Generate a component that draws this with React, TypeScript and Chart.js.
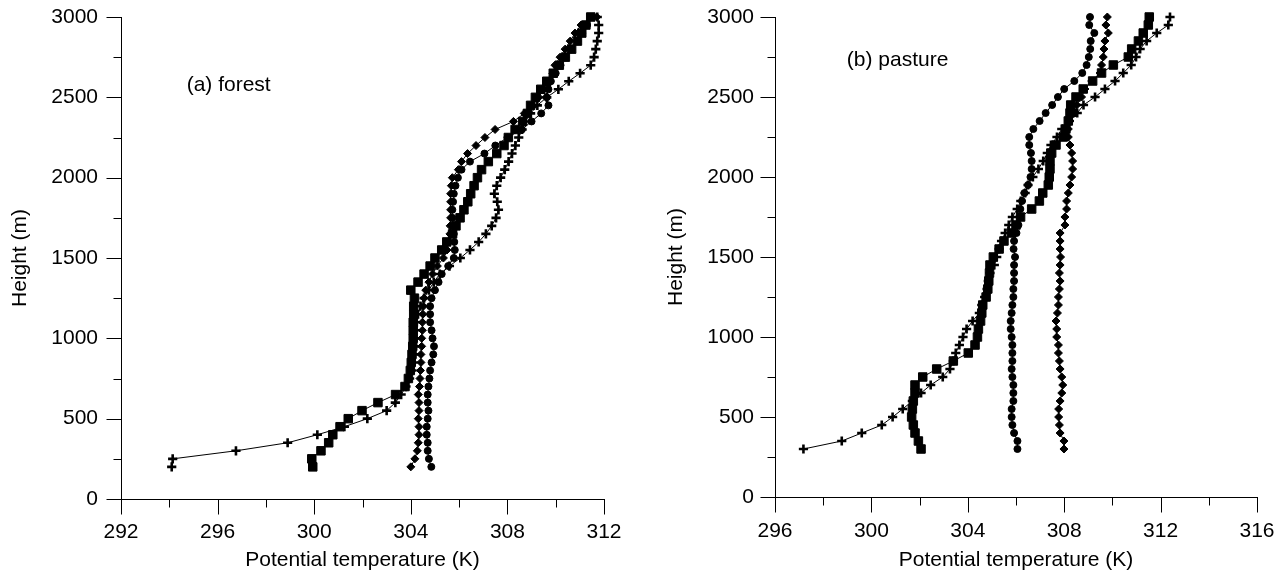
import React, { useEffect, useRef } from "react";
import { Chart, registerables } from "chart.js";

Chart.register(...registerables);

const FONT = '"Liberation Sans", Arial, Helvetica, sans-serif';

// ---------- Panel (a) forest ----------
const heightsA = [
  200, 250, 300, 350, 400, 450, 500, 550, 600, 650,
  700, 750, 800, 850, 900, 950, 1000, 1050, 1100, 1150,
  1200, 1250, 1300, 1350, 1400, 1450, 1500, 1550, 1600, 1650,
  1700, 1750, 1800, 1850, 1900, 1950, 2000, 2050, 2100, 2150,
  2200, 2250, 2300, 2350, 2400, 2450, 2500, 2550, 2600, 2650,
  2700, 2750, 2800, 2850, 2900, 2950, 3000,
];
const crossA = [
  294.1, 294.14, 296.76, 298.9, 300.13, 301.25, 302.2, 303.0, 303.36, 303.6,
  303.8, 303.95, 304.05, 304.1, 304.15, 304.15, 304.2, 304.2, 304.25, 304.3,
  304.4, 304.55, 304.75, 304.95, 305.2, 305.6, 306.05, 306.45, 306.81, 307.11,
  307.35, 307.53, 307.63, 307.58, 307.46, 307.56, 307.72, 307.89, 308.05, 308.19,
  308.33, 308.47, 308.61, 308.74, 308.96, 309.24, 309.63, 310.11, 310.54, 311.01,
  311.45, 311.59, 311.66, 311.72, 311.78, 311.78, 311.72,
];
const squareA = [
  299.94, 299.9, 300.28, 300.6, 300.77, 301.07, 301.41, 301.98, 302.64, 303.37,
  303.76, 303.9, 303.98, 304.02, 304.05, 304.08, 304.1, 304.1, 304.1, 304.12,
  304.12, 304.15, 304.0, 304.3, 304.55, 304.8, 305.0, 305.28, 305.49, 305.73,
  305.87, 306.04, 306.2, 306.36, 306.48, 306.62, 306.76, 306.93, 307.21, 307.56,
  307.86, 308.04, 308.32, 308.63, 308.83, 308.96, 309.16, 309.38, 309.63, 309.9,
  310.15, 310.4, 310.66, 310.9, 311.08, 311.25, 311.45,
];
const circleA = [
  304.85, 304.75, 304.7, 304.7, 304.66, 304.66, 304.7, 304.73, 304.7, 304.7,
  304.73, 304.77, 304.8, 304.86, 304.93, 304.96, 304.9, 304.86, 304.8, 304.8,
  304.8, 304.86, 305.0, 305.15, 305.28, 305.55, 305.78, 305.82, 305.8, 305.78,
  305.75, 305.72, 305.72, 305.75, 305.78, 305.85, 305.95, 306.1, 306.45, 307.05,
  307.5, 308.0, 308.6, 309.0, 309.4, 309.7, 309.63, 309.7, 309.8, 310.0,
  310.2, 310.4, 310.65, 310.9, 311.1, 311.3, 311.5,
];
const diamondA = [
  304.0, 304.17, 304.27, 304.31, 304.34, 304.34, 304.31, 304.34, 304.34, 304.31,
  304.36, 304.38, 304.4, 304.42, 304.42, 304.45, 304.45, 304.48, 304.48, 304.5,
  304.52, 304.55, 304.62, 304.75, 304.9, 305.1, 305.35, 305.5, 305.58, 305.62,
  305.63, 305.65, 305.65, 305.65, 305.65, 305.68, 305.72, 305.97, 306.1, 306.35,
  306.7, 307.07, 307.49, 308.25, 308.7, 309.05, 309.3, 309.5, 309.7, 309.88,
  309.97, 310.18, 310.39, 310.6, 310.8, 311.05, 311.7,
];

// ---------- Panel (b) pasture ----------
const heightsB = [
  300, 350, 400, 450, 500, 550, 600, 650, 700, 750,
  800, 850, 900, 950, 1000, 1050, 1100, 1150, 1200, 1250,
  1300, 1350, 1400, 1450, 1500, 1550, 1600, 1650, 1700, 1750,
  1800, 1850, 1900, 1950, 2000, 2050, 2100, 2150, 2200, 2250,
  2300, 2350, 2400, 2450, 2500, 2550, 2600, 2650, 2700, 2750,
  2800, 2850, 2900, 2950, 3000,
];
const crossB = [
  297.18, 298.77, 299.6, 300.43, 300.88, 301.3, 301.7, 302.06, 302.46, 302.96,
  303.26, 303.4, 303.5, 303.65, 303.8, 303.95, 304.2, 304.48, 304.58, 304.7,
  304.8, 304.85, 304.92, 305.1, 305.2, 305.3, 305.4, 305.55, 305.7, 305.85,
  306.05, 306.2, 306.38, 306.5, 306.7, 306.93, 307.13, 307.3, 307.45, 307.7,
  307.9, 308.2, 308.54, 308.8, 309.28, 309.69, 310.11, 310.45, 310.78, 310.98,
  311.15, 311.42, 311.84, 312.32, 312.39,
];
const squareB = [
  302.06, 301.95, 301.81, 301.74, 301.67, 301.7, 301.74, 301.81, 301.81, 302.13,
  302.71, 303.4, 304.02, 304.3, 304.4, 304.44, 304.53, 304.58, 304.62, 304.76,
  304.83, 304.87, 304.9, 304.92, 305.06, 305.3, 305.5, 305.82, 306.0, 306.19,
  306.65, 306.97, 307.11, 307.34, 307.38, 307.41, 307.41, 307.48, 307.66, 307.96,
  308.07, 308.17, 308.24, 308.27, 308.49, 308.79, 309.18, 309.55, 310.04, 310.66,
  310.8, 311.08, 311.28, 311.49, 311.53,
];
const circleB = [
  306.06, 306.06, 305.92, 305.85, 305.82, 305.82, 305.89, 305.89, 305.89, 305.85,
  305.82, 305.85, 305.85, 305.85, 305.82, 305.78, 305.78, 305.82, 305.85, 305.89,
  305.89, 305.92, 305.92, 305.92, 305.96, 305.9, 305.92, 306.02, 306.1, 306.15,
  306.18, 306.25, 306.35, 306.5, 306.6, 306.65, 306.65, 306.62, 306.55, 306.55,
  306.72, 306.98, 307.23, 307.5, 307.74, 308.0, 308.42, 308.75, 308.93, 309.02,
  309.08, 309.1, 309.25, 309.04, 309.07,
];
const diamondB = [
  307.99, 307.99, 307.83, 307.8, 307.77, 307.77, 307.83, 307.9, 307.94, 307.9,
  307.83, 307.8, 307.76, 307.76, 307.69, 307.69, 307.66, 307.72, 307.76, 307.76,
  307.8, 307.83, 307.8, 307.83, 307.85, 307.83, 307.83, 307.83, 308.03, 308.03,
  308.1, 308.1, 308.17, 308.24, 308.31, 308.35, 308.35, 308.31, 308.24, 308.17,
  308.17, 308.24, 308.45, 308.52, 308.72, 308.86, 309.14, 309.49, 309.55, 309.62,
  309.65, 309.69, 309.83, 309.73, 309.79,
];

// ---------- Axes / text ----------
const yTicks = [0, 500, 1000, 1500, 2000, 2500, 3000];
const yMinorTicks = [250, 750, 1250, 1750, 2250, 2750];
const xTicksA = [292, 296, 300, 304, 308, 312];
const xMinorTicksA = [294, 298, 302, 306, 310];
const xTicksB = [296, 300, 304, 308, 312, 316];
const xMinorTicksB = [298, 302, 306, 310, 314];
const xTitle = "Potential temperature (K)";
const yTitle = "Height (m)";
const labelA = "(a) forest";
const labelB = "(b) pasture";

type Kind = "cross" | "square" | "circle" | "diamond";

function markerStyle(kind: Kind) {
  switch (kind) {
    case "cross":
      return { pointStyle: "cross", pointRadius: 4.6, pointBorderWidth: 2.6 };
    case "square":
      return { pointStyle: "rect", pointRadius: 6, pointBorderWidth: 1 };
    case "circle":
      return { pointStyle: "circle", pointRadius: 3.5, pointBorderWidth: 1 };
    default:
      return { pointStyle: "rectRot", pointRadius: 4, pointBorderWidth: 1 };
  }
}

interface PanelCfg {
  heights: number[];
  series: { values: number[]; kind: Kind }[];
  xMin: number;
  xMax: number;
  xTicks: number[];
  xMinor: number[];
  label: string;
  labelAt: [number, number];
  yAxisWidth: number;
  xAxisHeight: number;
  padRight: number;
  padTop: number;
  yLabelGap: number;
  yTitlePad: number;
  xLabelGap: number;
}

const panelA: PanelCfg = {
  heights: heightsA,
  series: [
    { values: crossA, kind: "cross" },
    { values: squareA, kind: "square" },
    { values: circleA, kind: "circle" },
    { values: diamondA, kind: "diamond" },
  ],
  xMin: 292,
  xMax: 312,
  xTicks: xTicksA,
  xMinor: xMinorTicksA,
  label: labelA,
  labelAt: [294.72, 2577],
  yAxisWidth: 121,
  xAxisHeight: 74,
  padRight: 39,
  padTop: 17,
  yLabelGap: 23,
  yTitlePad: 9.5,
  xLabelGap: 21,
};

const panelB: PanelCfg = {
  heights: heightsB,
  series: [
    { values: crossB, kind: "cross" },
    { values: squareB, kind: "square" },
    { values: circleB, kind: "circle" },
    { values: diamondB, kind: "diamond" },
  ],
  xMin: 296,
  xMax: 316,
  xTicks: xTicksB,
  xMinor: xMinorTicksB,
  label: labelB,
  labelAt: [298.98, 2731],
  yAxisWidth: 132,
  xAxisHeight: 76,
  padRight: 29,
  padTop: 17,
  yLabelGap: 21,
  yTitlePad: 22.5,
  xLabelGap: 22,
};

const decorPlugin = {
  id: "decor",
  afterDraw(chart: any, _args: any, opts: any) {
    const { ctx, chartArea } = chart;
    const xs = chart.scales.x;
    const ys = chart.scales.y;
    const left = Math.round(chartArea.left) + 0.5;
    const bottom = Math.round(chartArea.bottom) + 0.5;
    ctx.save();
    ctx.strokeStyle = "#000";
    ctx.lineWidth = 1;
    ctx.beginPath();
    for (const v of opts.yMajor) {
      const y = Math.round(ys.getPixelForValue(v)) + 0.5;
      ctx.moveTo(left - 15, y);
      ctx.lineTo(left, y);
    }
    for (const v of opts.yMinor) {
      const y = Math.round(ys.getPixelForValue(v)) + 0.5;
      ctx.moveTo(left - 8, y);
      ctx.lineTo(left, y);
    }
    for (const v of opts.xMajor) {
      const x = Math.round(xs.getPixelForValue(v)) + 0.5;
      ctx.moveTo(x, bottom);
      ctx.lineTo(x, bottom + 15);
    }
    for (const v of opts.xMinor) {
      const x = Math.round(xs.getPixelForValue(v)) + 0.5;
      ctx.moveTo(x, bottom);
      ctx.lineTo(x, bottom + 8);
    }
    ctx.stroke();
    ctx.fillStyle = "#000";
    ctx.font = `21px ${FONT}`;
    ctx.textAlign = "left";
    ctx.textBaseline = "middle";
    ctx.fillText(
      opts.label,
      xs.getPixelForValue(opts.labelAt[0]),
      ys.getPixelForValue(opts.labelAt[1])
    );
    ctx.restore();
  },
};

const TICK_PAD = 4;

function buildConfig(cfg: PanelCfg): any {
  const datasets = cfg.series.map((s) => ({
    data: cfg.heights.map((h, i) => ({ x: s.values[i], y: h })),
    showLine: true,
    borderColor: "#000",
    borderWidth: 1,
    backgroundColor: "#000",
    pointBackgroundColor: "#000",
    pointBorderColor: "#000",
    tension: 0,
    clip: false,
    ...markerStyle(s.kind),
  }));
  return {
    type: "scatter",
    data: { datasets },
    plugins: [decorPlugin],
    options: {
      animation: false,
      responsive: false,
      devicePixelRatio: 1,
      layout: {
        autoPadding: false,
        padding: { left: 0, top: cfg.padTop, right: cfg.padRight, bottom: 0 },
      },
      plugins: {
        legend: { display: false },
        tooltip: { enabled: false },
        decor: {
          yMajor: yTicks,
          yMinor: yMinorTicks,
          xMajor: cfg.xTicks,
          xMinor: cfg.xMinor,
          label: cfg.label,
          labelAt: cfg.labelAt,
        },
      },
      scales: {
        x: {
          type: "linear",
          position: "bottom",
          min: cfg.xMin,
          max: cfg.xMax,
          afterBuildTicks: (axis: any) => {
            axis.ticks = cfg.xTicks.map((v) => ({ value: v }));
          },
          afterFit: (axis: any) => {
            axis.height = cfg.xAxisHeight;
          },
          grid: {
            display: true,
            drawOnChartArea: false,
            drawTicks: true,
            tickLength: cfg.xLabelGap - TICK_PAD,
            tickColor: "rgba(0,0,0,0)",
          },
          border: { display: true, color: "#000", width: 1 },
          ticks: {
            color: "#000",
            font: { size: 21, family: FONT },
            padding: TICK_PAD,
            maxRotation: 0,
            autoSkip: false,
            callback: (v: any) => String(v),
          },
          title: {
            display: true,
            text: xTitle,
            color: "#000",
            font: { size: 21, family: FONT, lineHeight: 1 },
            padding: { top: 0, bottom: 2 },
          },
        },
        y: {
          type: "linear",
          position: "left",
          min: 0,
          max: 3000,
          afterBuildTicks: (axis: any) => {
            axis.ticks = yTicks.map((v) => ({ value: v }));
          },
          afterFit: (axis: any) => {
            axis.width = cfg.yAxisWidth;
          },
          grid: {
            display: true,
            drawOnChartArea: false,
            drawTicks: true,
            tickLength: cfg.yLabelGap - TICK_PAD,
            tickColor: "rgba(0,0,0,0)",
          },
          border: { display: true, color: "#000", width: 1 },
          ticks: {
            color: "#000",
            font: { size: 21, family: FONT },
            padding: TICK_PAD,
            autoSkip: false,
            callback: (v: any) => String(v),
          },
          title: {
            display: true,
            text: yTitle,
            color: "#000",
            font: { size: 21, family: FONT, lineHeight: 1 },
            padding: { top: cfg.yTitlePad, bottom: 0 },
          },
        },
      },
    },
  };
}

function Panel({ cfg, left }: { cfg: PanelCfg; left: number }) {
  const ref = useRef<HTMLCanvasElement>(null);
  useEffect(() => {
    if (!ref.current) return;
    const chart = new Chart(ref.current, buildConfig(cfg));
    return () => chart.destroy();
  }, [cfg]);
  return (
    <canvas
      ref={ref}
      width={643}
      height={573}
      style={{ position: "absolute", left, top: 0, width: 643, height: 573 }}
    />
  );
}

export default function App() {
  return (
    <div
      style={{
        position: "absolute",
        left: 0,
        top: 0,
        width: 1286,
        height: 573,
        background: "#fff",
      }}
    >
      <Panel cfg={panelA} left={0} />
      <Panel cfg={panelB} left={643} />
    </div>
  );
}
